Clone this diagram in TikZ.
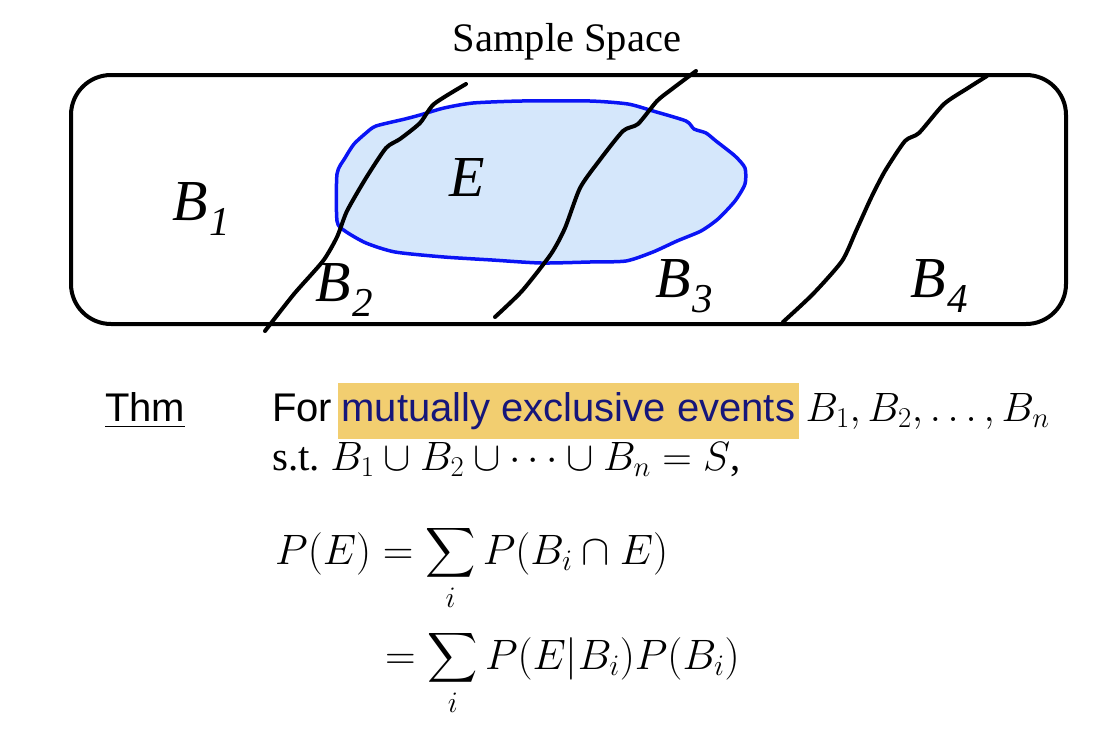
\RequirePackage{fix-cm}
\documentclass[tikz,border=0pt]{standalone}
\usepackage{amsmath}
\usepackage{graphicx}
\usepackage{fontspec}
\setmainfont{Liberation Serif}
\newfontfamily\arialfam{Liberation Sans}
\DeclareFontShape{OMX}{cmex}{m}{n}{<->cmex10}{}
\usetikzlibrary{positioning}
\definecolor{evtfill}{RGB}{213,231,251}
\definecolor{evtline}{RGB}{10,20,245}
\definecolor{hlyellow}{RGB}{242,206,112}
\definecolor{navytext}{RGB}{22,22,122}
\newcommand{\bpart}[1]{B\kern2pt\raisebox{-15pt}{\fontsize{41}{41}\selectfont #1}}
\newcommand{\sumi}{\mathop{\vcenter{\hbox{\scalebox{0.82}{$\displaystyle\sum$}}}}\limits_i}
\tikzset{
    region/.style={draw, line width=4pt, rounded corners=40pt},
    bound/.style={line width=4pt, line join=round, line cap=round},
    evt/.style={draw=evtline, fill=evtfill, line width=3.5pt, line join=round},
    lbl/.style={inner sep=0pt, anchor=base west, font=\fontsize{58}{60}\selectfont\itshape},
    ttl/.style={inner sep=0pt, font=\fontsize{40.5}{44}\selectfont},
    txt/.style={inner sep=0pt, anchor=base west, font=\fontsize{40}{46}\selectfont\arialfam},
    mtxt/.style={inner sep=0pt, anchor=base west, font=\fontsize{41}{46}\selectfont\rmfamily},
    hl/.style={fill=hlyellow, text=navytext, inner xsep=4pt, minimum height=56pt},
    eqn/.style={inner sep=0pt, anchor=base west, font=\fontsize{42.5}{48}\selectfont}
}
\begin{document}
\begin{tikzpicture}[x=1pt, y=-1pt]
    \useasboundingbox (0,0) rectangle (1114,736);
    % sample space
    \node [ttl] (title) at (567,42) {Sample Space};
    \draw [region] (71,75) rectangle (1066,324);
    % event E
    \draw [evt] plot [smooth cycle, tension=0.4] coordinates {
        (337,174) (337,221) (345,231) (366,243) (395,252) (444,257) (492,260)
        (541,263) (590,262) (626,261) (653,252) (677,241) (701,231) (718,219)
        (735,201) (745,184) (745,168) (735,156) (716,141) (706,133) (694,129)
        (686,121) (653,111) (628,104) (590,101) (522,101) (473,103) (444,108)
        (420,115) (405,119) (376,126) (366,133) (354,144) (345,158)};
    % partition boundaries
    \draw [bound] plot [smooth, tension=0.4] coordinates {
        (265,331) (294,294) (323,261) (337,237) (347,211) (366,178) (386,148)
        (400,139) (420,123) (434,104) (466,84)};
    \draw [bound] plot [smooth, tension=0.4] coordinates {
        (495,317) (522,291) (551,254) (565,228) (580,188) (599,161) (623,131)
        (638,124) (657,101) (672,89) (696,71)};
    \draw [bound] plot [smooth, tension=0.4] coordinates {
        (783,322) (813,294) (842,261) (856,231) (871,198) (885,171) (905,141)
        (919,133) (944,104) (968,88) (987,76)};
    % labels
    \node [lbl] (b1) at (172,220) {\bpart{1}};
    \node [lbl] (b2) at (315,301) {\bpart{2}};
    \node [lbl] (b3) at (655,297) {\bpart{3}};
    \node [lbl] (b4) at (910,297) {\bpart{4}};
    \node [lbl] (e) at (449,196) {E};
    % theorem
    \node [txt] (thm) at (105,421) {\underline{Thm}};
    \node [txt] (for) at (272,421) {For};
    \node [txt, hl, base right=5pt of for] (mee) {mutually exclusive events};
    \node [mtxt, base right=6pt of mee] (bset) {$B_1, B_2, \ldots, B_n$};
    \node [mtxt] (st) at (272,470) {s.t.\ $B_1\cup B_2\cup\cdots\cup B_n=S$,};
    \node [eqn] (eqa) at (275,564) {$\displaystyle P(E)=\sumi P(B_i\cap E)$};
    \node [eqn] (eqb) at (385,669) {$\displaystyle =\sumi P(E|B_i)P(B_i)$};
\end{tikzpicture}
\end{document}
